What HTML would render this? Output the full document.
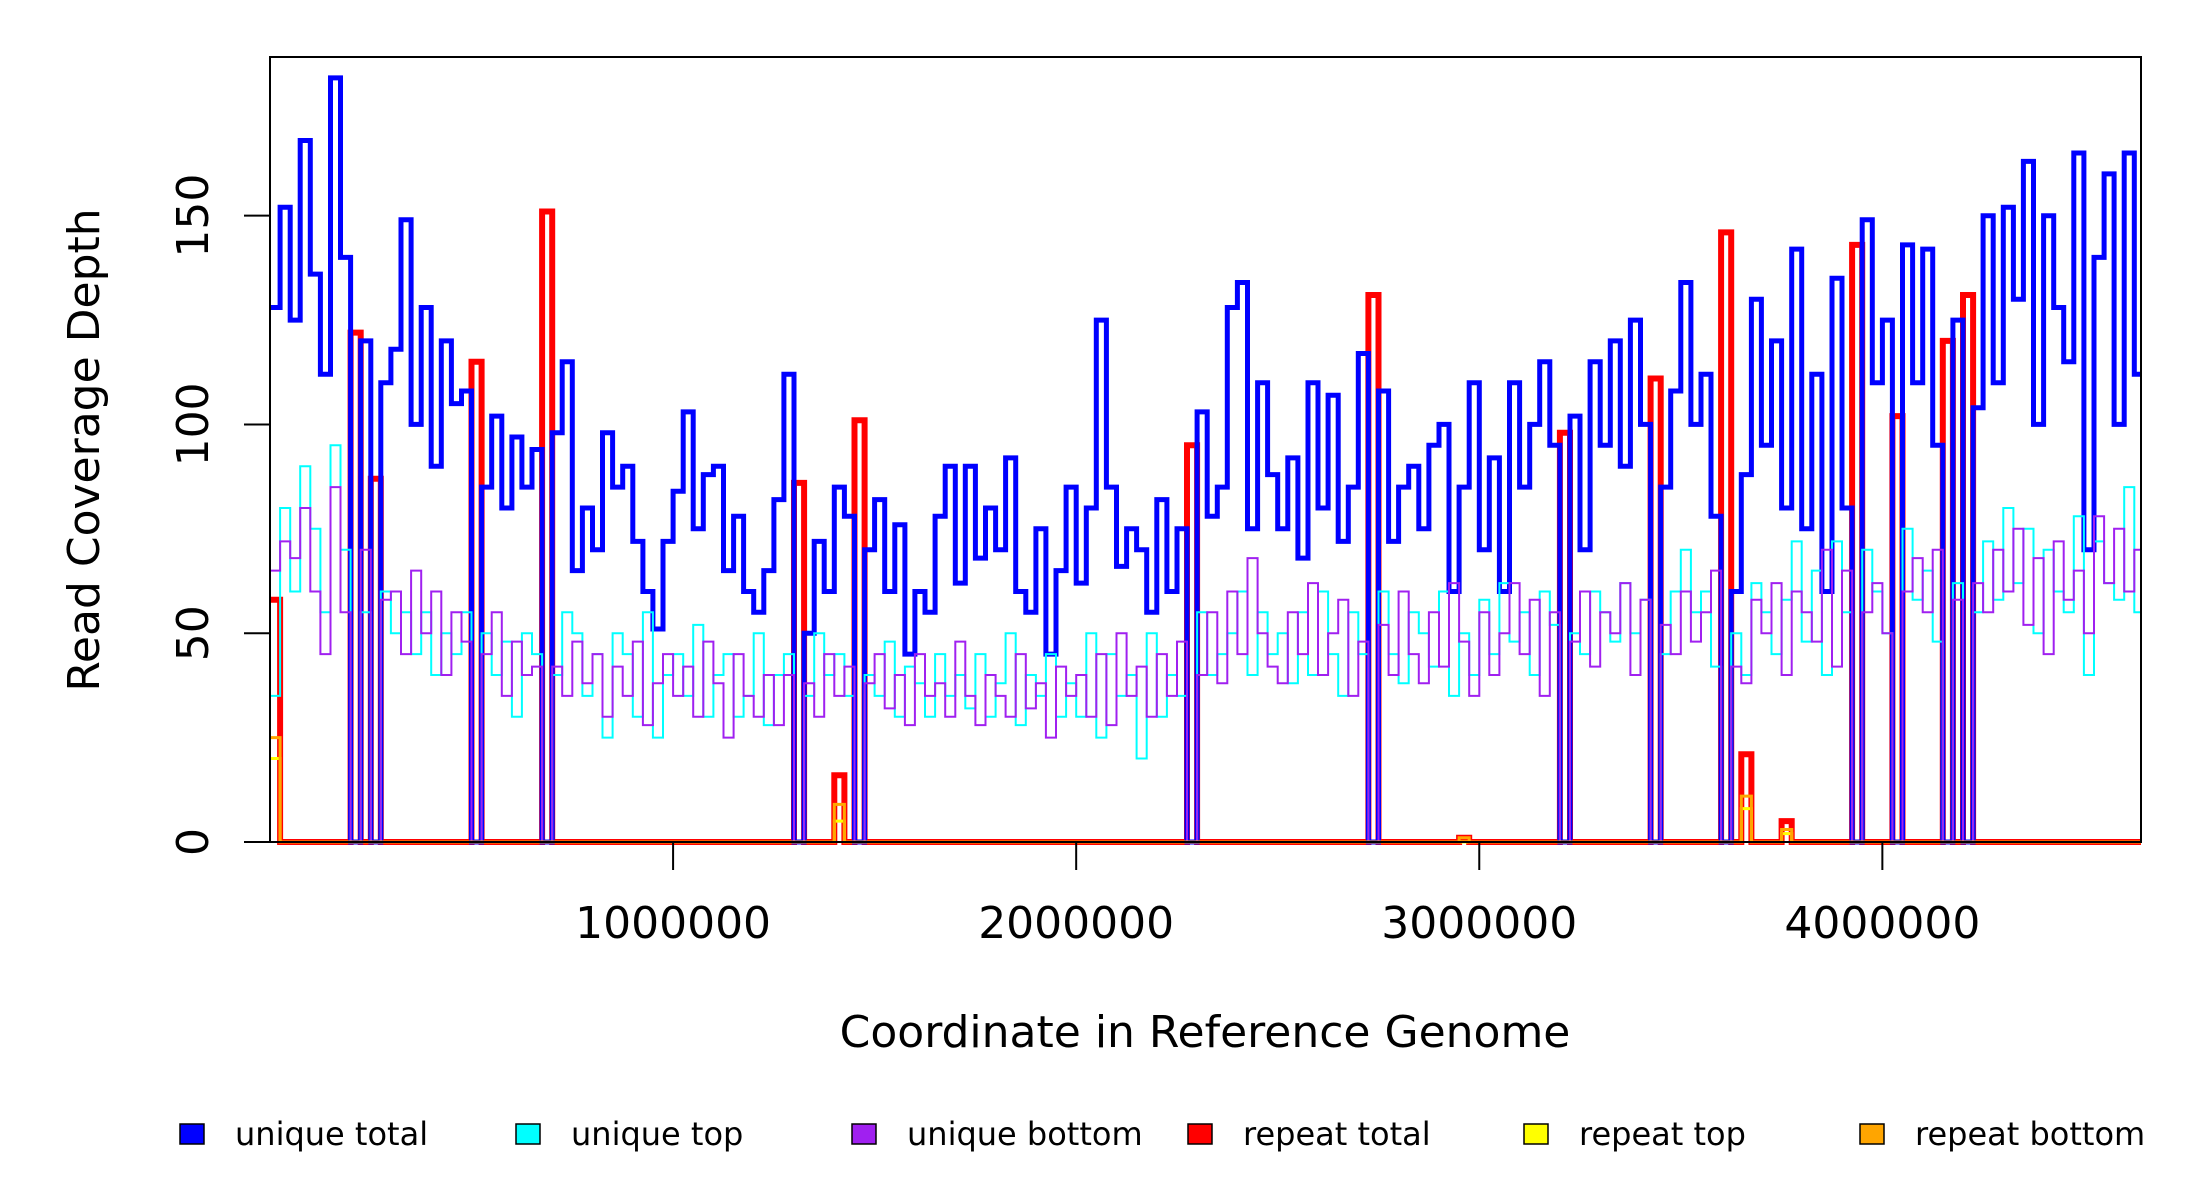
<!DOCTYPE html>
<html><head><meta charset="utf-8"><style>
html,body{margin:0;padding:0;background:#fff;}
svg{display:block;font-family:"DejaVu Sans","Liberation Sans",sans-serif;}
</style></head><body>
<svg id="chart" width="2200" height="1200" viewBox="0 0 2200 1200">
<g id="series"></g>
<g id="axes"></g>
<text x="87" y="450" font-size="44" text-anchor="middle" dominant-baseline="middle" transform="rotate(-90 87 450)">Read Coverage Depth</text>
<text x="1205" y="1047" font-size="44" text-anchor="middle">Coordinate in Reference Genome</text>
<g id="legend"></g>
</svg>
<script>
const binSize = 25000;
const genomeLength = 4641652;
const yTicks = [0, 50, 100, 150];
const xTicks = [1000000, 2000000, 3000000, 4000000];
const uniqueTotal = [128,152,125,168,136,112,183,140,0,120, 0,110,118,149,100,128,90,120,105,108,
0,85,102,80,97,85,94,0,98,115, 65,80,70,98,85,90,72,60,51,72, 84,103,75,88,90,65,78,60,55,65,
82,112,0,50,72,60,85,78,0,70, 82,60,76,45,60,55,78,90,62,90, 68,80,70,92,60,55,75,45,65,85,
62,80,125,85,66,75,70,55,82,60, 75,0,103,78,85,128,134,75,110,88, 75,92,68,110,80,107,72,85,117,0,
108,72,85,90,75,95,100,60,85,110, 70,92,60,110,85,100,115,95,0,102, 70,115,95,120,90,125,100,0,85,108,
134,100,112,78,0,60,88,130,95,120, 80,142,75,112,60,135,80,0,149,110, 125,0,143,110,142,95,0,125,0,104,
150,110,152,130,163,100,150,128,115,165, 70,140,160,100,165,112];
const uniqueTop = [35,80,60,90,75,55,95,70,0,55, 0,60,50,55,45,55,40,50,45,55,
0,50,40,48,30,50,45,0,40,55, 50,35,45,25,50,45,30,55,25,40, 45,35,52,30,40,45,30,35,50,28,
40,45,0,35,50,40,45,35,0,40, 35,48,30,42,38,30,45,35,40,32, 45,30,38,50,28,40,35,45,30,38,
30,50,25,45,35,40,20,50,30,40, 35,0,55,40,45,50,60,40,55,45, 50,38,55,40,60,45,35,55,45,0,
60,45,38,55,50,42,60,35,50,40, 58,45,62,48,55,40,60,52,0,50, 45,60,55,48,62,50,58,0,45,60,
70,55,60,42,0,50,40,62,55,45, 58,72,48,65,40,72,55,0,70,60, 50,0,75,58,65,48,0,62,0,55,
72,58,80,62,75,50,70,60,55,78, 40,72,62,58,85,55];
const uniqueBottom = [65,72,68,80,60,45,85,55,0,70, 0,58,60,45,65,50,60,40,55,48,
0,45,55,35,48,40,42,0,42,35, 48,38,45,30,42,35,48,28,38,45, 35,42,30,48,38,25,45,35,30,40,
28,40,0,38,30,45,35,42,0,38, 45,32,40,28,45,35,38,30,48,35, 28,40,35,30,45,32,38,25,42,35,
40,30,45,28,50,35,42,30,45,35, 48,0,40,55,38,60,45,68,50,42, 38,55,45,62,40,50,58,35,48,0,
52,40,60,45,38,55,42,62,48,35, 55,40,50,62,45,58,35,55,0,48, 60,42,55,50,62,40,58,0,52,45,
60,48,55,65,0,42,38,58,50,62, 40,60,55,48,70,42,65,0,55,62, 50,0,60,68,55,70,0,58,0,62,
55,70,60,75,52,68,45,72,58,65, 50,78,62,75,60,70];
// repeat spikes: [bin index, value]
const repeatBins = [0,8,10,20,27,52,56,58,91,109,118,128,137,144,146,150,157,161,166,168];
const repeatTotal = [58,122,87,115,151,86,16,101,95,131,1,98,111,146,21,5,143,102,120,131];
const repeatTop = [20,0,0,0,0,0,5,0,0,0,0,0,0,0,8,2,0,0,0,0];
const repeatBottom = [25,0,0,0,0,0,9,0,0,0,1,0,0,0,11,3,0,0,0,0];

const L=270,R=2141,T=57,B=842,YMAX=188;
const xs=v=>L+v*(R-L)/genomeLength;
const ys=v=>B-v*(B-T)/YMAX;
const NS='http://www.w3.org/2000/svg';
const nBins=Math.ceil(genomeLength/binSize);
function full(vals){const a=new Array(nBins).fill(0);repeatBins.forEach((b,i)=>a[b]=vals[i]);return a;}
function stepPath(vals){
  let d='M'+xs(0).toFixed(1)+' '+ys(vals[0]).toFixed(1);
  for(let i=0;i<nBins;i++){
    const x1=xs(Math.min((i+1)*binSize,genomeLength));
    d+=' H'+x1.toFixed(1);
    if(i+1<nBins) d+=' V'+ys(vals[i+1]||0).toFixed(1);
  }
  return d;
}
const sg=document.getElementById('series');
function addSeries(vals,color,w,name){
  const p=document.createElementNS(NS,'path');
  p.setAttribute('d',stepPath(vals));p.setAttribute('fill','none');
  p.setAttribute('stroke',color);p.setAttribute('stroke-width',w);
  
  
  sg.appendChild(p);
}
addSeries(full(repeatTotal),'#ff0000',6,'repeat-total-line');
addSeries(uniqueTotal,'#0000ff',5,'unique-total-line');
addSeries(uniqueTop,'#00ffff',2,'unique-top-line');
addSeries(uniqueBottom,'#a020f0',2,'unique-bottom-line');
addSeries(full(repeatTop),'#ffff00',3,'repeat-top-line');
addSeries(full(repeatBottom),'#ffa500',3,'repeat-bottom-line');

const ag=document.getElementById('axes');
function el(tag,attrs,parent){const e=document.createElementNS(NS,tag);for(const k in attrs)e.setAttribute(k,attrs[k]);parent.appendChild(e);return e;}
const box=el('rect',{x:L,y:T,width:R-L,height:B-T,fill:'none',stroke:'#000','stroke-width':2},ag);


yTicks.forEach(v=>{
  const t=el('line',{x1:L-26,x2:L,y1:ys(v),y2:ys(v),stroke:'#000','stroke-width':2},ag);
  
  
  const tx=el('text',{x:0,y:0,'font-size':44,'text-anchor':'middle',transform:`translate(208 ${ys(v)}) rotate(-90)`},ag);
  tx.textContent=v;
  
  
});
xTicks.forEach(v=>{
  const t=el('line',{x1:xs(v),x2:xs(v),y1:B,y2:B+28,stroke:'#000','stroke-width':2},ag);
  
  
  const tx=el('text',{x:xs(v),y:938,'font-size':44,'text-anchor':'middle'},ag);
  tx.textContent=v;
  
  
});
const legendLabels=['unique total','unique top','unique bottom','repeat total','repeat top','repeat bottom'];
const legendColors=['#0000ff','#00ffff','#a020f0','#ff0000','#ffff00','#ffa500'];
const legendX=[180,516,852,1188,1524,1860];
const lg=document.getElementById('legend');
legendLabels.forEach((lab,i)=>{
  const r=el('rect',{x:legendX[i],y:1124,width:24,height:20,fill:legendColors[i],stroke:'#000','stroke-width':1.5},lg);
  
  
  const t=el('text',{x:legendX[i]+55,y:1145,'font-size':32},lg);
  t.textContent=lab;
  
  
});
</script>
</body></html>
